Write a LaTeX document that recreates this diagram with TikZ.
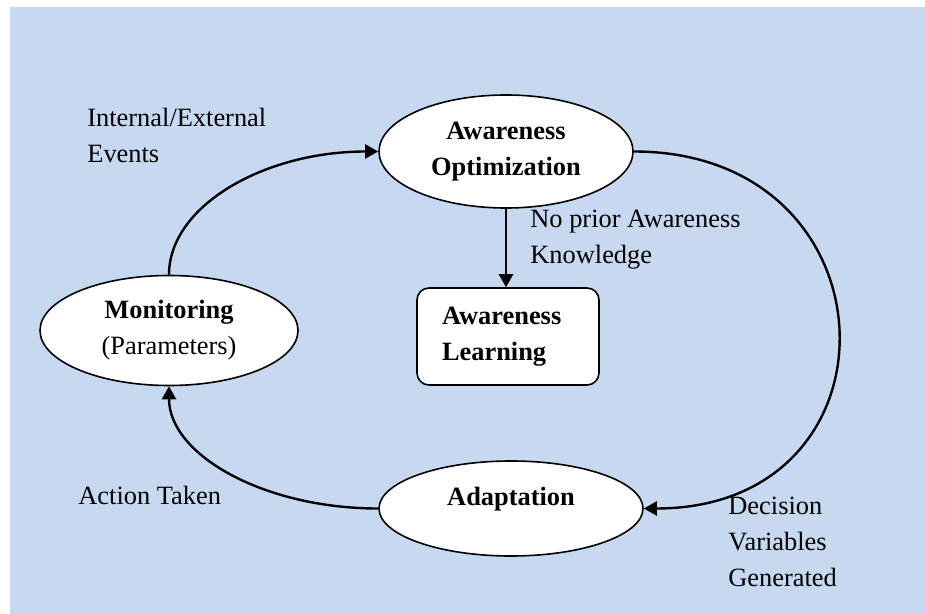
\documentclass[tikz,border=0pt]{standalone}
\usepackage{fontspec}
\setmainfont{Liberation Serif}
\usetikzlibrary{shapes.geometric,arrows.meta}
\definecolor{bgblue}{HTML}{C6D9F0}

\begin{document}
\begin{tikzpicture}[x=0.5pt,y=-0.5pt,
        font=\fontsize{13.2}{18}\selectfont,
        phase/.style={ellipse,draw,line width=0.8pt,fill=white,inner sep=0pt,align=center},
        note/.style={anchor=west,align=left,inner sep=0pt},
        flow/.style={line width=1.2pt,-{Triangle[length=6.5pt,width=7pt]}}]
    \useasboundingbox (0,0) rectangle (925,614);
    \fill[bgblue] (10,7) rectangle (925,614);

    \node[phase,minimum width=127pt,minimum height=56.5pt] (opt) at (506,151.5)
        {\textbf{Awareness}\\\textbf{Optimization}};
    \node[phase,minimum width=129pt,minimum height=55pt] (mon) at (169,330.5)
        {\textbf{Monitoring}\\(Parameters)};
    \node[phase,minimum width=132pt,minimum height=47.5pt,text depth=12.4pt] (adapt) at (511,508.5)
        {\textbf{Adaptation}};
    \node[draw,fill=white,line width=0.8pt,rounded corners=6pt,align=left,
          text width=66pt,inner xsep=12.5pt,minimum height=48.5pt] (learn) at (508,336.5)
        {\textbf{Awareness}\\\textbf{Learning}};

    \node[note] (events) at (87,135) {Internal/External\\Events};
    \node[note] (prior) at (530,239.5) {No prior Awareness\\Knowledge};
    \node[note] (action) at (78,495) {Action Taken};
    \node[note] (decision) at (728,542) {Decision\\Variables\\Generated};

    \draw[flow] (mon.north) to[out=90,in=180,out looseness=0.72,in looseness=1.21] (opt.west);
    \draw[flow] (opt.south) -- (opt.south |- learn.north);
    \draw[flow] (opt.east) to[out=0,in=0,looseness=1.9] (adapt.east);
    \draw[flow] (adapt.west) to[out=180,in=-90,out looseness=1.21,in looseness=0.72] (mon.south);
\end{tikzpicture}
\end{document}
